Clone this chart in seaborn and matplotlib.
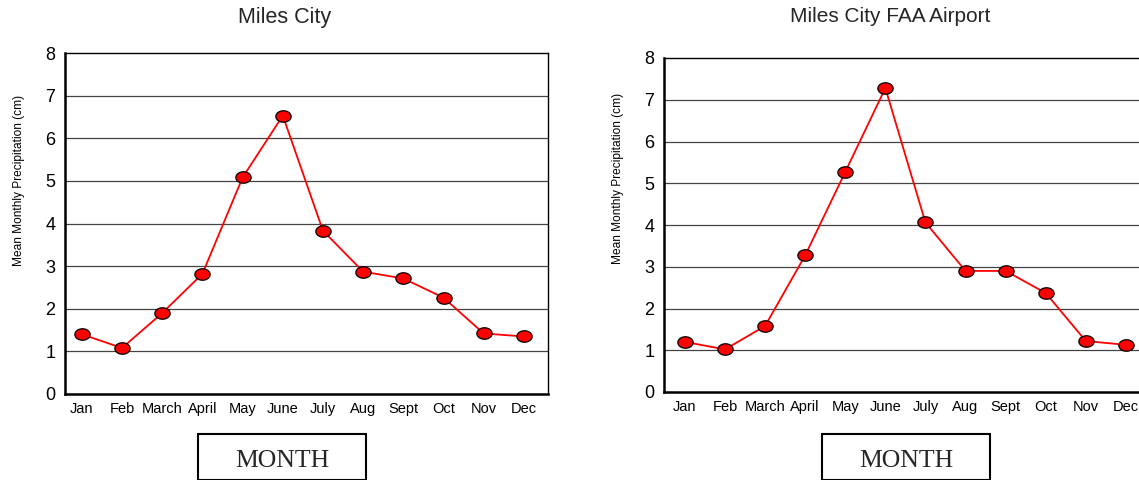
import numpy as np
import pandas as pd
import matplotlib
matplotlib.use("Agg")
import matplotlib.pyplot as plt
from matplotlib.path import Path
from matplotlib.patches import Rectangle
import seaborn as sns

# data
months = ['Jan', 'Feb', 'March', 'April', 'May', 'June', 'July', 'Aug', 'Sept', 'Oct', 'Nov', 'Dec']
miles_city = [1.40, 1.08, 1.90, 2.82, 5.08, 6.53, 3.83, 2.87, 2.71, 2.26, 1.42, 1.35]
faa_airport = [1.20, 1.02, 1.58, 3.27, 5.27, 7.28, 4.06, 2.90, 2.90, 2.37, 1.22, 1.13]
y_ticks = [0, 1, 2, 3, 4, 5, 6, 7, 8]

sns.set_style("white")
plt.rcParams['font.family'] = ['Liberation Sans', 'DejaVu Sans']

# flattened ellipse marker
t = np.linspace(0, 2 * np.pi, 60)
ellipse = Path(np.column_stack([np.cos(t), 0.75 * np.sin(t)]), closed=True)

fig = plt.figure(figsize=(11.39, 4.8), dpi=100)
W, H = 1139, 480

def panel(rect, values, xpad, label_y):
    ax = fig.add_axes(rect)
    df = pd.DataFrame({'idx': range(len(months)), 'val': values})
    sns.lineplot(data=df, x='idx', y='val', ax=ax, color='red', linewidth=1.3,
                 marker=ellipse, markersize=11, markerfacecolor='red',
                 markeredgecolor='black', markeredgewidth=0.9)
    ax.set_ylim(0, 8)
    ax.set_xlim(-xpad, len(months) - 1 + 0.6)
    ax.set_yticks(y_ticks)
    ax.set_yticklabels([str(v) for v in y_ticks], fontsize=13, color='black')
    ax.set_xticks(range(len(months)))
    ax.set_xticklabels(months, fontsize=10.5, color='black')
    ax.tick_params(axis='y', length=0, pad=7)
    ax.tick_params(axis='x', length=0, pad=6)
    for v in y_ticks[1:-1]:
        ax.axhline(v, color='#444444', linewidth=0.9, zorder=0)
    for s in ax.spines.values():
        s.set_visible(True)
        s.set_color('black')
        s.set_linewidth(1.0)
    ax.spines['left'].set_linewidth(1.8)
    ax.spines['bottom'].set_linewidth(1.8)
    ax.set_xlabel('')
    ax.set_ylabel('Mean Monthly Precipitation (cm)', fontsize=8.6, color='black')
    ax.yaxis.set_label_coords(-0.083, label_y)
    return ax

ax1 = panel([65 / W, 1 - 394 / H, (548 - 65) / W, (394 - 53) / H],
            miles_city, 0.42, 0.625)
ax2 = panel([664 / W, 1 - 392 / H, (1150 - 664) / W, (392 - 58) / H],
            faa_airport, 0.52, 0.64)

# titles sit a little left of the axes centre in the original
fig.text(285 / W, 1 - 18 / H, 'Miles City', ha='center', va='center', fontsize=15.5)
fig.text(890 / W, 1 - 17 / H, 'Miles City FAA Airport', ha='center', va='center', fontsize=15)

# MONTH boxes below each chart
for x0 in [198, 822]:
    fig.patches.append(Rectangle((x0 / W, 0), 168 / W, 46 / H, transform=fig.transFigure,
                                 facecolor='white', edgecolor='black', linewidth=1.5))
    fig.text((x0 + 84) / W, 19 / H, 'MONTH', ha='center', va='center',
             fontsize=18.5, family='Liberation Serif')

plt.savefig('out.png', dpi=100)
